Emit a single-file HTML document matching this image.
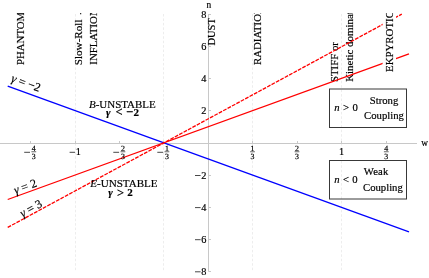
<!DOCTYPE html>
<html><head><meta charset="utf-8">
<style>
html,body{margin:0;padding:0;background:#fff;}
svg{display:block;font-family:"Liberation Serif",serif;will-change:transform;}
text{stroke:#000;stroke-width:.18px;}
</style></head>
<body>
<svg width="429" height="278" viewBox="0 0 429 278">
<rect width="429" height="278" fill="#fff"/>
<defs>
<clipPath id="pc"><rect x="0" y="12.9" width="429" height="259"/></clipPath>
</defs>
<!-- gridlines -->
<g stroke="#ededed" stroke-width="1" stroke-dasharray="2.5 1.95" fill="none">
<line x1="75.5" y1="14" x2="75.5" y2="271.5"/>
<line x1="163.5" y1="14" x2="163.5" y2="271.5"/>
<line x1="252.5" y1="14" x2="252.5" y2="271.5"/>
<line x1="341.5" y1="14" x2="341.5" y2="271.5"/>
</g>
<!-- axes -->
<g stroke="#c8c8c8" stroke-width="1" fill="none">
<line x1="0" y1="143.5" x2="417" y2="143.5"/>
<line x1="208.5" y1="14" x2="208.5" y2="271.5"/>
<!-- x ticks -->
<path d="M30.5 141v2.5M75.5 141v2.5M119.5 141v2.5M163.5 141v2.5M252.5 141v2.5M297.5 141v2.5M341.5 141v2.5M386.5 141v2.5"/>
<!-- y ticks -->
<path d="M208.5 14.5h2.5M208.5 46.5h2.5M208.5 78.5h2.5M208.5 110.5h2.5M208.5 175.5h2.5M208.5 207.5h2.5M208.5 239.5h2.5M208.5 271.5h2.5"/>
</g>
<!-- top labels (rotated) -->
<g clip-path="url(#pc)" font-size="10.5" fill="#000">
<text transform="translate(24,65) rotate(-90)" font-size="10.8">PHANTOM</text>
<text transform="translate(81.7,65.2) rotate(-90) scale(1.06,1)">Slow-Roll</text>
<rect x="80.2" y="10" width="1" height="4.3" fill="#000"/>
<text transform="translate(97.3,64.7) rotate(-90) scale(1.03,1)">INFLATION</text>
<text transform="translate(215.0,45.6) rotate(-90)">DUST</text>
<text transform="translate(260.5,65) rotate(-90) scale(1.03,1)">RADIATION</text>
<text transform="translate(338.2,82) rotate(-90)" font-size="10.8">STIFF or</text>
<text transform="translate(353.2,81.8) rotate(-90) scale(1.012,1)" font-size="10.8">Kinetic dominated</text>
<rect x="382.6" y="10" width="13.4" height="64" fill="#fff"/>
</g>
<!-- lines -->
<g clip-path="url(#pc)" fill="none" stroke-width="1.3">
<line x1="7.7" y1="86.2" x2="409" y2="231.9" stroke="#0000ff"/>
<line x1="7.7" y1="199.5" x2="409" y2="53.9" stroke="#ff0000"/>
<line x1="7.7" y1="227.4" x2="401.8" y2="14.1" stroke="#ff0000" stroke-dasharray="3.8 1.2"/>
</g>
<g clip-path="url(#pc)" font-size="10.5" fill="#000">
<rect x="382.6" y="10" width="13.4" height="64" fill="#fff"/>
<text transform="translate(392.7,72) rotate(-90) scale(1.035,1)">EKPYROTIC</text>
</g>
<!-- line labels -->
<g font-size="12" fill="#000">
<text transform="translate(10.5,81.5) rotate(20)"><tspan font-style="italic">γ</tspan> = −2</text>
<text transform="translate(15.5,194.3) rotate(-20)"><tspan font-style="italic">γ</tspan> = 2</text>
<text transform="translate(22.4,217.4) rotate(-28.4)"><tspan font-style="italic">γ</tspan> = 3</text>
</g>
<!-- middle labels -->
<g font-size="10.7" fill="#000">
<text transform="translate(89,107.5) scale(1.025,1)"><tspan font-style="italic">B</tspan>-UNSTABLE</text>
<text font-weight="bold" font-size="11"><tspan x="106" y="115.6" font-style="italic">γ</tspan><tspan x="115.4" y="116.3" font-size="12.5">&lt;</tspan><tspan x="125.9" y="116.3" font-size="12.5">−</tspan><tspan x="133.4" y="115.6">2</tspan></text>
<text transform="translate(90.2,187.3) scale(1.037,1)"><tspan font-style="italic">E</tspan>-UNSTABLE</text>
<text font-weight="bold" font-size="11"><tspan x="108.3" y="196.1" font-style="italic">γ</tspan><tspan x="117" y="196.8" font-size="12.5">&gt;</tspan><tspan x="127.3" y="196.1">2</tspan></text>
</g>
<!-- boxes -->
<g fill="none" stroke="#383838" stroke-width="1">
<rect x="329.5" y="89" width="77" height="38.5"/>
<rect x="329.5" y="160.5" width="77" height="38.5"/>
</g>
<g font-size="10.7" fill="#000">
<text x="334.3" y="111.2" word-spacing="0.7"><tspan font-style="italic">n</tspan> &gt; 0</text>
<text x="384" y="103.8" text-anchor="middle">Strong</text>
<text x="384" y="118.8" text-anchor="middle">Coupling</text>
<text x="334.3" y="183.3" word-spacing="0.6"><tspan font-style="italic">n</tspan> &lt; 0</text>
<text x="363.8" y="174.8" letter-spacing="0.15">Weak</text>
<text x="363" y="190.6">Coupling</text>
</g>
<!-- axis labels -->
<g font-size="9.4" fill="#000">
<text x="206.4" y="8.3">n</text>
<text x="421.2" y="146.3">w</text>
</g>
<!-- y tick labels -->
<g font-size="10.3" fill="#000" text-anchor="end">
<text x="206.4" y="17.6">8</text>
<text x="206.4" y="50.0">6</text>
<text x="206.4" y="82.1">4</text>
<text x="206.4" y="114.3">2</text>
<text x="206.4" y="178.7">2</text>
<text x="206.4" y="210.8">4</text>
<text x="206.4" y="242.9">6</text>
<text x="206.4" y="275.0">8</text>
</g>
<!-- x tick labels -->
<g font-size="10.3" fill="#000" text-anchor="middle">
<text x="78.4" y="155.3">1</text>
<text x="341.5" y="155.3">1</text>
</g>
<g font-size="7.9" fill="#000" text-anchor="middle" text-rendering="geometricPrecision"><text x="33.8" y="151.0">4</text><text x="33.8" y="159.4">3</text>
<text x="122.9" y="151.0">2</text><text x="122.9" y="159.4">3</text>
<text x="166.9" y="151.0">1</text><text x="166.9" y="159.4">3</text>
<text x="252.5" y="151.0">1</text><text x="252.5" y="159.4">3</text>
<text x="297.0" y="151.0">2</text><text x="297.0" y="159.4">3</text>
<text x="386.3" y="151.0">4</text><text x="386.3" y="159.4">3</text></g>
<path d="M31.4 151.75h4.8M120.5 151.75h4.8M164.5 151.75h4.8M250.1 151.75h4.8M294.6 151.75h4.8M383.9 151.75h4.8" stroke="#222" stroke-width="0.7" fill="none"/>
<path d="M195 175.5h5.6M195 207.6h5.6M195 239.7h5.6M195 271.8h5.6M69.6 152.3h5.4M24.2 152.3h5.8M113.3 152.3h5.8M157.3 152.3h5.8" stroke="#1a1a1a" stroke-width="0.8" fill="none"/>
</svg>
</body></html>
